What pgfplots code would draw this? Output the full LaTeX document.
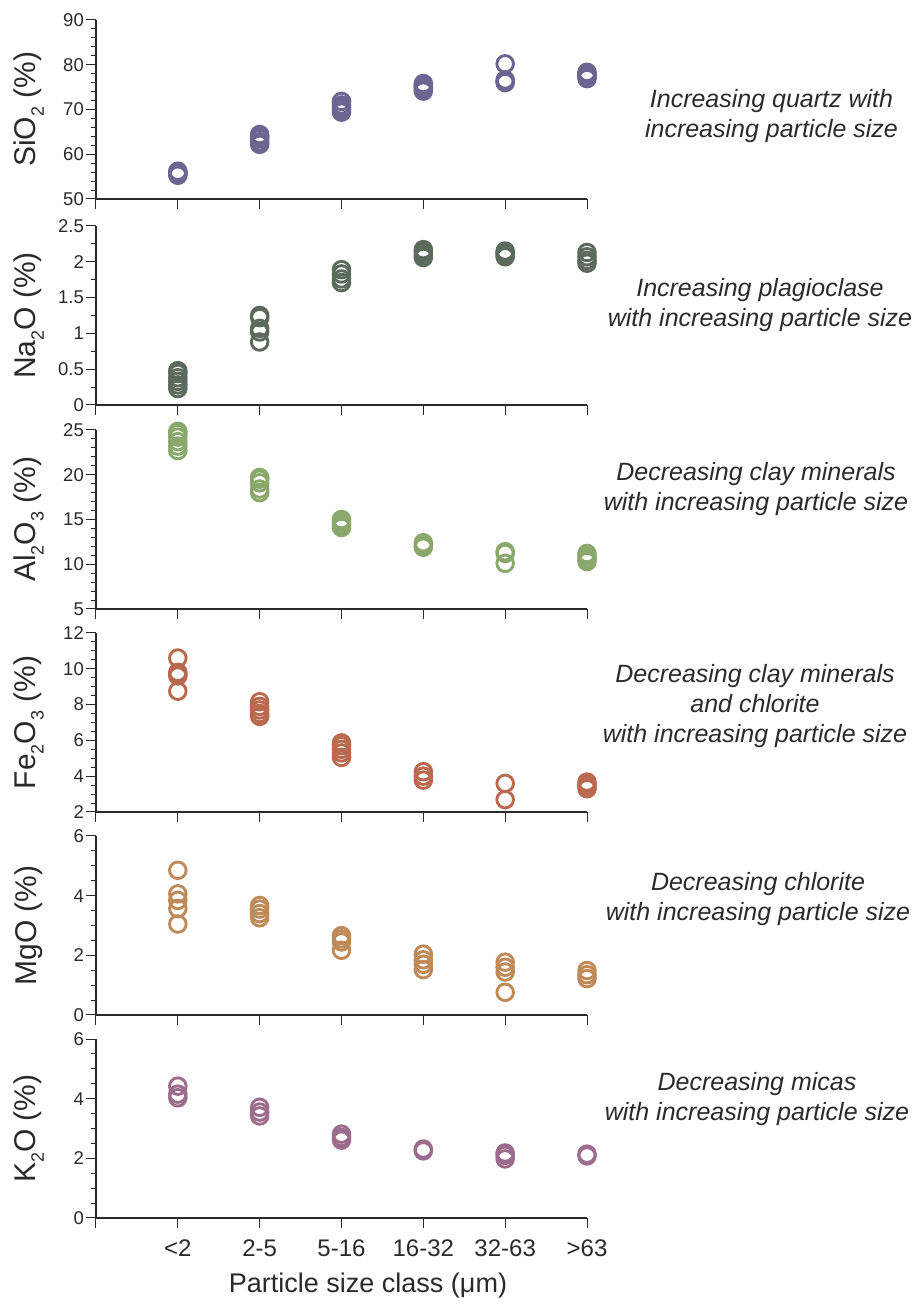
\documentclass[border=0pt]{standalone}
\usepackage{fontspec}
\setmainfont{Liberation Sans}
\usepackage{pgfplots}
\pgfplotsset{compat=1.18}
\definecolor{cSi}{HTML}{6C6592}
\definecolor{cNa}{HTML}{5C6A5C}
\definecolor{cAl}{HTML}{8AA86C}
\definecolor{cFe}{HTML}{B9694E}
\definecolor{cMg}{HTML}{BF8A58}
\definecolor{cK}{HTML}{9C6C8C}
\definecolor{axc}{HTML}{2A2A2A}
\newcommand{\sub}[1]{\raisebox{-0.28em}{\fontsize{18}{18}\selectfont #1}}
\pgfplotsset{
  panel/.style={
    scale only axis, width=491pt, height=179pt,
    anchor=south west,
    xmin=-1, xmax=5,
    xtick={-1,0,1,2,3,4,5},
    xticklabels={},
    axis x line*=bottom, axis y line*=left,
    axis line style={line width=1.3pt, draw=axc, -},
    tick style={line width=1pt, draw=axc},
    tick align=outside,
    major tick length=10pt, minor tick length=5pt,
    clip=false,
    /pgf/number format/assume math mode=true,
    yticklabel style={font=\fontsize{18.5}{20}\selectfont, inner sep=2pt, text=axc},
    every axis y label/.style={at={(axis description cs:-0.137,0.5)}, rotate=90, anchor=center, font=\fontsize{30}{32}\selectfont, text=axc},
  },
  pts/.style={only marks, mark=o, mark size=8.3pt, line width=2.9pt, color=#1, mark options={draw=#1, fill=none, line width=2.9pt}},
}
\newcommand{\ann}{\fontsize{25}{30}\selectfont\itshape}
\begin{document}
\begin{tikzpicture}[x=1pt,y=1pt]
\useasboundingbox (0,0) rectangle (917,1305);
% SiO2
\begin{axis}[panel, at={(96pt,1106pt)}, ymin=50, ymax=90, ytick={50,60,70,80,90}, minor y tick num=4,
  ylabel={SiO\sub{2} (\%)}]
\addplot[pts=cSi] coordinates {
(0,55.3)(0,55.6)(0,55.8)(0,56.0)(0,56.2)
(1,62.2)(1,62.8)(1,63.5)(1,64.0)(1,64.4)
(2,69.4)(2,70.0)(2,70.5)(2,71.0)(2,71.8)
(3,74.1)(3,74.6)(3,75.0)(3,75.4)(3,75.8)
(4,76.0)(4,76.3)(4,76.6)(4,80.2)
(5,76.9)(5,77.3)(5,77.7)(5,78.0)(5,78.3)};
\end{axis}
% Na2O
\begin{axis}[panel, at={(96pt,900pt)}, ymin=0, ymax=2.5, ytick={0,0.5,1,1.5,2,2.5}, minor y tick num=1,
  ylabel={Na\sub{2}O (\%)}]
\addplot[pts=cNa] coordinates {
(0,0.23)(0,0.28)(0,0.33)(0,0.38)(0,0.44)(0,0.48)
(1,0.88)(1,1.02)(1,1.07)(1,1.22)(1,1.25)
(2,1.71)(2,1.76)(2,1.83)(2,1.89)
(3,2.06)(3,2.10)(3,2.14)(3,2.17)
(4,2.07)(4,2.10)(4,2.13)(4,2.15)
(5,1.98)(5,2.02)(5,2.07)(5,2.13)};
\end{axis}
% Al2O3
\begin{axis}[panel, at={(96pt,696pt)}, ymin=5, ymax=25, ytick={5,10,15,20,25}, minor y tick num=4,
  ylabel={Al\sub{2}O\sub{3} (\%)}]
\addplot[pts=cAl] coordinates {
(0,22.7)(0,23.2)(0,23.7)(0,24.2)(0,24.6)(0,24.85)
(1,18.0)(1,18.4)(1,19.1)(1,19.5)(1,19.7)
(2,14.1)(2,14.4)(2,14.7)(2,15.0)
(3,11.9)(3,12.1)(3,12.4)
(4,10.1)(4,11.2)(4,11.4)
(5,10.3)(5,10.6)(5,10.9)(5,11.2)};
\end{axis}
% Fe2O3
\begin{axis}[panel, at={(96pt,493pt)}, ymin=2, ymax=12, ytick={2,4,6,8,10,12}, minor y tick num=3,
  ylabel={Fe\sub{2}O\sub{3} (\%)}]
\addplot[pts=cFe] coordinates {
(0,8.75)(0,9.6)(0,9.7)(0,9.8)(0,10.6)
(1,7.34)(1,7.5)(1,7.7)(1,7.9)(1,8.16)
(2,5.05)(2,5.3)(2,5.5)(2,5.7)(2,5.86)
(3,3.78)(3,4.0)(3,4.25)
(4,2.69)(4,3.6)
(5,3.3)(5,3.45)(5,3.55)(5,3.67)};
\end{axis}
% MgO
\begin{axis}[panel, at={(96pt,290pt)}, ymin=0, ymax=6, ytick={0,2,4,6}, minor y tick num=3,
  ylabel={MgO (\%)}]
\addplot[pts=cMg] coordinates {
(0,3.05)(0,3.57)(0,3.84)(0,4.06)(0,4.85)
(1,3.26)(1,3.4)(1,3.55)(1,3.67)
(2,2.17)(2,2.45)(2,2.55)(2,2.66)
(3,1.52)(3,1.7)(3,1.85)(3,2.04)
(4,0.76)(4,1.44)(4,1.6)(4,1.77)
(5,1.22)(5,1.35)(5,1.49)};
\end{axis}
% K2O
\begin{axis}[panel, at={(96pt,87pt)}, ymin=0, ymax=6, ytick={0,2,4,6}, minor y tick num=3,
  ylabel={K\sub{2}O (\%)},
  xticklabels={,{<2},{2-5},{5-16},{16-32},{32-63},{>63}},
  xticklabel style={font=\fontsize{24}{26}\selectfont, text=axc, yshift=-8pt},
  xlabel={Particle size class (μm)},
  every axis x label/.style={at={(axis description cs:0.554,-0.375)}, anchor=center, font=\fontsize{27}{30}\selectfont, text=axc}]
\addplot[pts=cK] coordinates {
(0,4.03)(0,4.15)(0,4.42)
(1,3.42)(1,3.55)(1,3.71)
(2,2.61)(2,2.7)(2,2.81)
(3,2.25)(3,2.31)
(4,1.98)(4,2.1)(4,2.18)
(5,2.08)(5,2.14)};
\end{axis}
% annotations
\node[align=center, font=\ann, text=axc] at (771.5,1188.5) {Increasing quartz with\\increasing particle size};
\node[align=center, font=\ann, text=axc] at (760,1000) {Increasing plagioclase\\with increasing particle size};
\node[align=center, font=\ann, text=axc] at (756,815.5) {Decreasing clay minerals\\with increasing particle size};
\node[align=center, font=\ann, text=axc] at (755,599) {Decreasing clay minerals\\and chlorite\\with increasing particle size};
\node[align=center, font=\ann, text=axc] at (758,406) {Decreasing chlorite\\with increasing particle size};
\node[align=center, font=\ann, text=axc] at (757,206) {Decreasing micas\\with increasing particle size};
\end{tikzpicture}
\end{document}
